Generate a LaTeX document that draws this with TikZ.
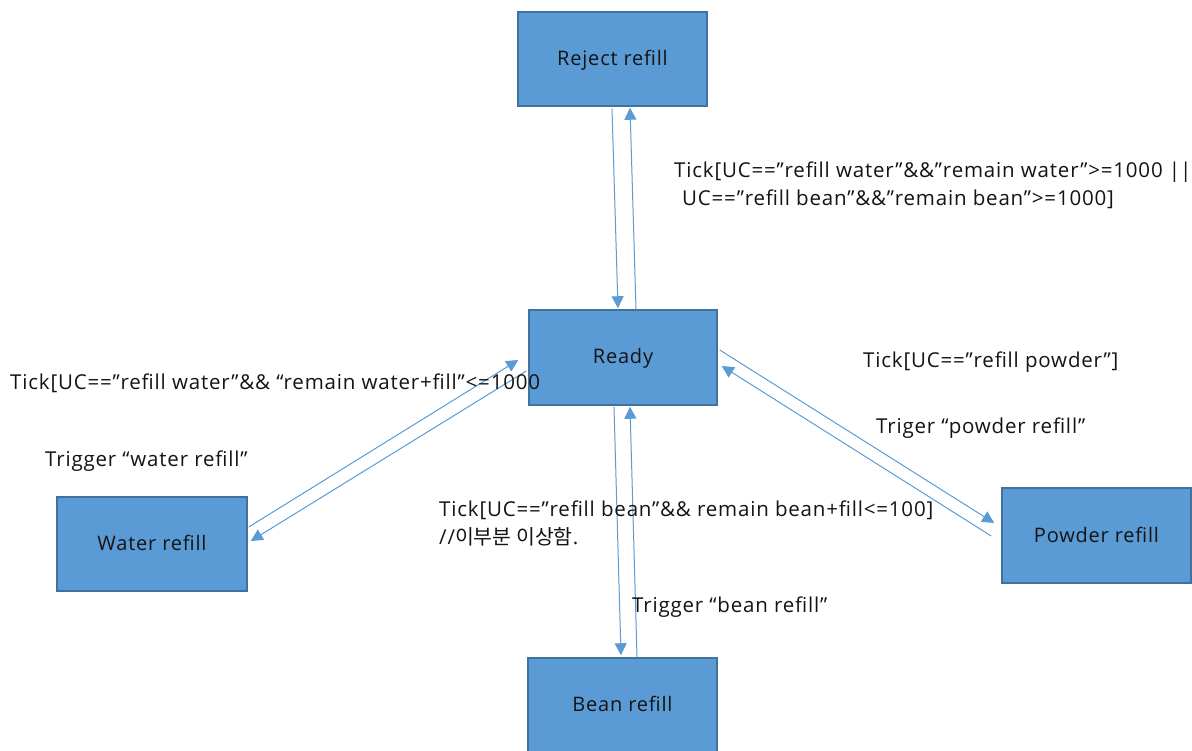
\documentclass[tikz,border=0pt]{standalone}
\usepackage{fontspec}
\setmainfont{Open Sans}[LetterSpace=4]
\newfontfamily\kr{Noto Sans CJK KR}
\usetikzlibrary{arrows.meta}
\definecolor{boxfill}{RGB}{91,155,213}
\definecolor{boxline}{RGB}{65,113,156}
\definecolor{wire}{RGB}{91,155,213}
\definecolor{ink}{RGB}{20,20,20}
\tikzset{
  state/.style={draw=boxline, line width=1.5pt, fill=boxfill, minimum width=189pt,
    minimum height=94pt, inner sep=0pt, text=ink, font=\fontsize{20}{25}\selectfont,
    text height=15pt, text depth=2pt},
  lbl/.style={anchor=west, inner sep=0pt, text=ink, font=\fontsize{20.5}{25}\selectfont,
    text height=15pt, text depth=5pt},
  flow/.style={draw=wire, line width=1pt, -{Triangle[length=12pt,width=12pt]}}
}
\begin{document}
\begin{tikzpicture}[x=1pt,y=-1pt]
\useasboundingbox (0,0) rectangle (1192,751);
\fill[white] (0,0) rectangle (1192,751);

% states
\node[state] (rej)    at (612.5,59)    {Reject refill};
\node[state, minimum width=188pt, minimum height=95pt] (ready) at (623,357.5) {Ready};
\node[state, minimum width=190pt] (water) at (152,544) {Water refill};
\node[state, minimum height=95pt] (powder) at (1096.5,535.5) {Powder refill};
\node[state] (bean)   at (622.5,705)   {Bean refill};

% transitions
\draw[flow] ([xshift=-0.5pt,yshift=-2pt]rej.south) -- ([xshift=-5pt,yshift=1pt]ready.north);
\draw[flow] ([xshift=13pt]ready.north) -- ([xshift=17.5pt,yshift=-1pt]rej.south);
\draw[flow] ([xshift=-9pt,yshift=-1pt]ready.south) -- ([xshift=-1.5pt,yshift=2pt]bean.north);
\draw[flow] ([xshift=14.5pt]bean.north) -- ([xshift=7pt,yshift=-1pt]ready.south);
\draw[flow] ([xshift=1pt,yshift=17pt]water.east) -- ([xshift=-10pt,yshift=-2.5pt]ready.west);
\draw[flow] ([xshift=-2pt,yshift=-13.5pt]ready.west) -- ([xshift=3pt,yshift=3pt]water.east);
\draw[flow] ([xshift=2pt,yshift=7.5pt]ready.east) -- ([xshift=-7pt,yshift=12.5pt]powder.west);
\draw[flow] ([xshift=-10pt,yshift=-0.5pt]powder.west) -- ([xshift=4pt,yshift=-8.5pt]ready.east);

% guard and trigger labels
\node[lbl] (g1) at (674,173) {Tick[UC==”refill water”\&\&”remain water”>=1000~\addfontfeature{LetterSpace=0}||};
\node[lbl] (g2) at (682,201) {UC==”refill bean”\&\&”remain bean”>=1000]};
\node[lbl] (g3) at (10,384) {Tick[UC==”refill water”\&\& “remain water+fill”<=1000};
\node[lbl] (t1) at (45,461) {Trigger “water refill”};
\node[lbl] (g4) at (863,362) {Tick[UC==”refill powder”]};
\node[lbl] (t2) at (876,428) {Triger “powder refill”};
\node[lbl] (g5) at (439,511) {Tick[UC==”refill bean”\&\& remain bean+fill<=100]};
\node[lbl] (n1) at (439,539) {//{\kr 이부분 이상함}.};
\node[lbl] (t3) at (632,607) {Trigger “bean refill”};
\end{tikzpicture}
\end{document}
